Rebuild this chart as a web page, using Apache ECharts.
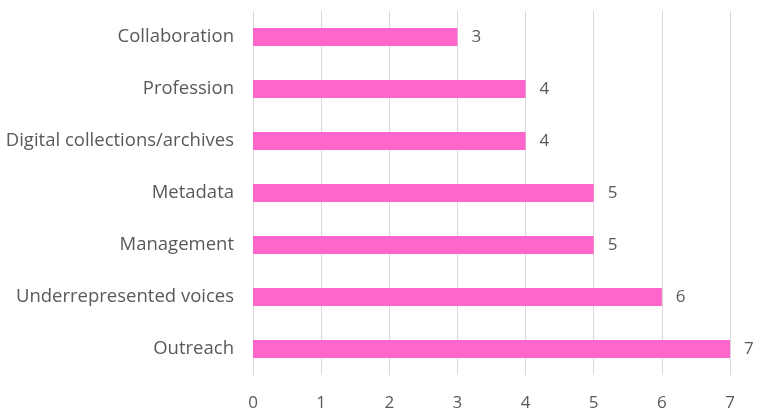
<!DOCTYPE html>
<html><head><meta charset="utf-8">
<script src="https://cdn.jsdelivr.net/npm/echarts@6/dist/echarts.min.js"></script>
<style>html,body{margin:0;padding:0;background:#fff}#c{width:758px;height:413px}</style>
</head><body><div id="c"></div>
<script>
var categories = ["Outreach","Underrepresented voices","Management","Metadata","Digital collections/archives","Profession","Collaboration"];
var values = [7,6,5,5,4,4,3];
var ticks = [0,1,2,3,4,5,6,7];
var chart = echarts.init(document.getElementById('c'));
var font = 'Open Sans';
chart.setOption({
  animation:false,
  grid:{left:253,right:28,top:11,bottom:38,containLabel:false},
  xAxis:{type:'value',min:0,max:7,interval:1,
    axisLine:{show:false},axisTick:{show:false},
    splitLine:{lineStyle:{color:'#d9d9d9',width:1}},
    axisLabel:{color:'#595959',fontSize:17,fontFamily:font,margin:20,formatter:function(v){return ticks.indexOf(v)>=0?String(v):'';}}
  },
  yAxis:{type:'category',data:categories,
    axisLine:{show:true,lineStyle:{color:'#d9d9d9'}},axisTick:{show:false},
    axisLabel:{color:'#595959',fontSize:18.5,fontFamily:font,margin:19}
  },
  series:[{type:'bar',data:values,barWidth:18,itemStyle:{color:'#ff66cc'},
    label:{show:true,position:'right',distance:14,color:'#595959',fontSize:17,fontFamily:font}}]
});
</script></body></html>
